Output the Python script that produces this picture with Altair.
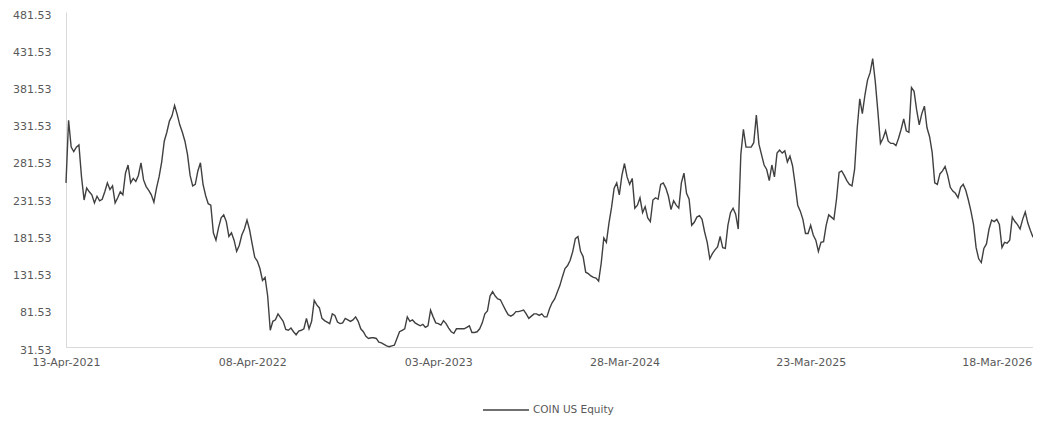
import altair as alt
import pandas as pd

series_name = "COIN US Equity"
start_date = "2021-04-13"
step_days = 5

prices = [
    252, 336, 300, 294, 300, 303, 260, 229, 245, 240,
    236, 225, 234, 228, 230, 240, 252, 243, 248, 225,
    232, 240, 236, 265, 276, 252, 258, 254, 262, 279,
    256, 247, 242, 236, 226, 245, 260, 280, 308, 320,
    335, 342, 356, 344, 330, 320, 308, 290, 262, 248,
    250, 268, 279,
    250, 235, 224, 222, 185, 175, 192, 205, 209, 200,
    180, 185, 175, 160, 168, 182, 190, 202, 189, 170,
    152, 147, 137, 121, 125, 100, 54, 66, 68, 76,
    71, 66, 55, 54, 57, 52, 48, 53, 54, 56,
    70, 56, 66, 94, 88, 84, 70, 67, 65, 63,
    76,
    74, 65, 63, 64, 70, 68, 66, 68, 72, 66,
    56, 52, 46, 43, 44, 44, 43, 38, 37, 35,
    33, 32, 33, 34, 43, 52, 54, 56, 72, 66,
    68, 64, 62, 60, 62, 58, 60, 81, 72, 64,
    63, 61, 67, 63, 57, 52, 50, 56, 56, 56,
    56, 58,
    60, 51, 51, 52, 56, 64, 76, 80, 100, 106,
    100, 96, 95, 88, 81, 75, 73, 75, 79, 79,
    80, 81, 76, 70, 73, 76, 76, 74, 76, 72,
    72, 83, 91, 96, 105, 114, 126, 137, 141, 148,
    160, 177, 180, 160, 153, 132, 130, 127, 125, 124,
    120, 144, 178,
    172, 198, 219, 245, 252, 236, 262, 278, 260, 250,
    258, 218, 222, 232, 212, 220, 205, 200, 229, 232,
    230, 250, 252, 245, 234, 216, 228, 222, 218, 252,
    265, 238, 230, 195, 199, 206, 208, 203, 186, 172,
    150, 157, 162, 166, 180, 165, 164, 195, 212, 218,
    210, 190,
    290, 324, 300, 300, 300, 306, 343, 304, 290, 276,
    270, 255, 276, 260, 292, 296, 292, 295, 280, 288,
    275, 250, 222, 214, 203, 184, 184, 195, 182, 175,
    160, 172, 173, 195, 209, 206, 203, 230, 266, 268,
    262, 255, 250, 248, 270, 325, 365, 345, 370, 390,
    400, 419,
    388, 348, 305, 312, 322, 308, 305, 305, 302, 312,
    324, 338, 322, 320, 380, 375, 350, 330, 345, 355,
    326, 314, 293, 252, 250, 264, 268, 274, 262, 246,
    241, 238, 232, 246, 250, 242, 229, 214, 196, 165,
    150, 145, 164, 170, 190, 202, 200, 203, 196, 165,
    172, 171, 175, 206, 200, 196, 190, 203, 213, 198,
    188, 179,
]

x_tick_dates = ["2021-04-13", "2022-04-08", "2023-04-03",
                "2024-03-28", "2025-03-23", "2026-03-18"]
y_ticks = [31.53, 81.53, 131.53, 181.53, 231.53, 281.53,
           331.53, 381.53, 431.53, 481.53]

dates = pd.date_range(start=start_date, periods=len(prices), freq=f"{step_days}D")
df = pd.DataFrame({
    "date": dates.strftime("%Y-%m-%d"),
    "price": prices,
    "series": series_name,
})


def ms(d):
    return int(pd.Timestamp(d, tz="UTC").value // 10**6)


x_vals = [ms(d) for d in x_tick_dates]
x_domain = [ms(dates[0]), ms(dates[-1])]

font = "DejaVu Sans"
grey = "#595959"

chart = alt.Chart(df).mark_line(strokeWidth=1.4).encode(
    x=alt.X(
        "date:T",
        scale=alt.Scale(type="utc", domain=x_domain, nice=False),
        axis=alt.Axis(
            values=x_vals, labelExpr="utcFormat(datum.value, '%d-%b-%Y')",
            title=None, labelFlush=False, ticks=False, grid=False,
            labelOverlap=False, domainColor="#d9d9d9", domainWidth=1,
            labelColor=grey, labelFont=font, labelFontSize=11, labelPadding=9,
        ),
    ),
    y=alt.Y(
        "price:Q",
        scale=alt.Scale(domain=[31.53, 481.53], nice=False, zero=False),
        axis=alt.Axis(
            values=y_ticks, format=".2f", title=None, ticks=False, grid=False,
            domainColor="#d9d9d9", domainWidth=1, labelColor=grey,
            labelFont=font, labelFontSize=11, labelPadding=15, labelOffset=3,
        ),
    ),
    color=alt.Color(
        "series:N",
        scale=alt.Scale(range=["#404040"]),
        legend=alt.Legend(
            orient="none", legendX=416, legendY=374, title=None,
            symbolType="stroke", symbolSize=2116, symbolStrokeWidth=1.4,
            labelFont=font, labelFontSize=10.5, labelColor=grey, labelOffset=3,
        ),
    ),
).properties(
    width=967,
    height=335,
    padding={"left": 58, "top": 4, "right": 0, "bottom": 69},
    autosize=alt.AutoSizeParams(type="none"),
    background="white",
).configure_view(stroke=None)

chart.save("out.html", embed_options={"renderer": "svg", "actions": False})
